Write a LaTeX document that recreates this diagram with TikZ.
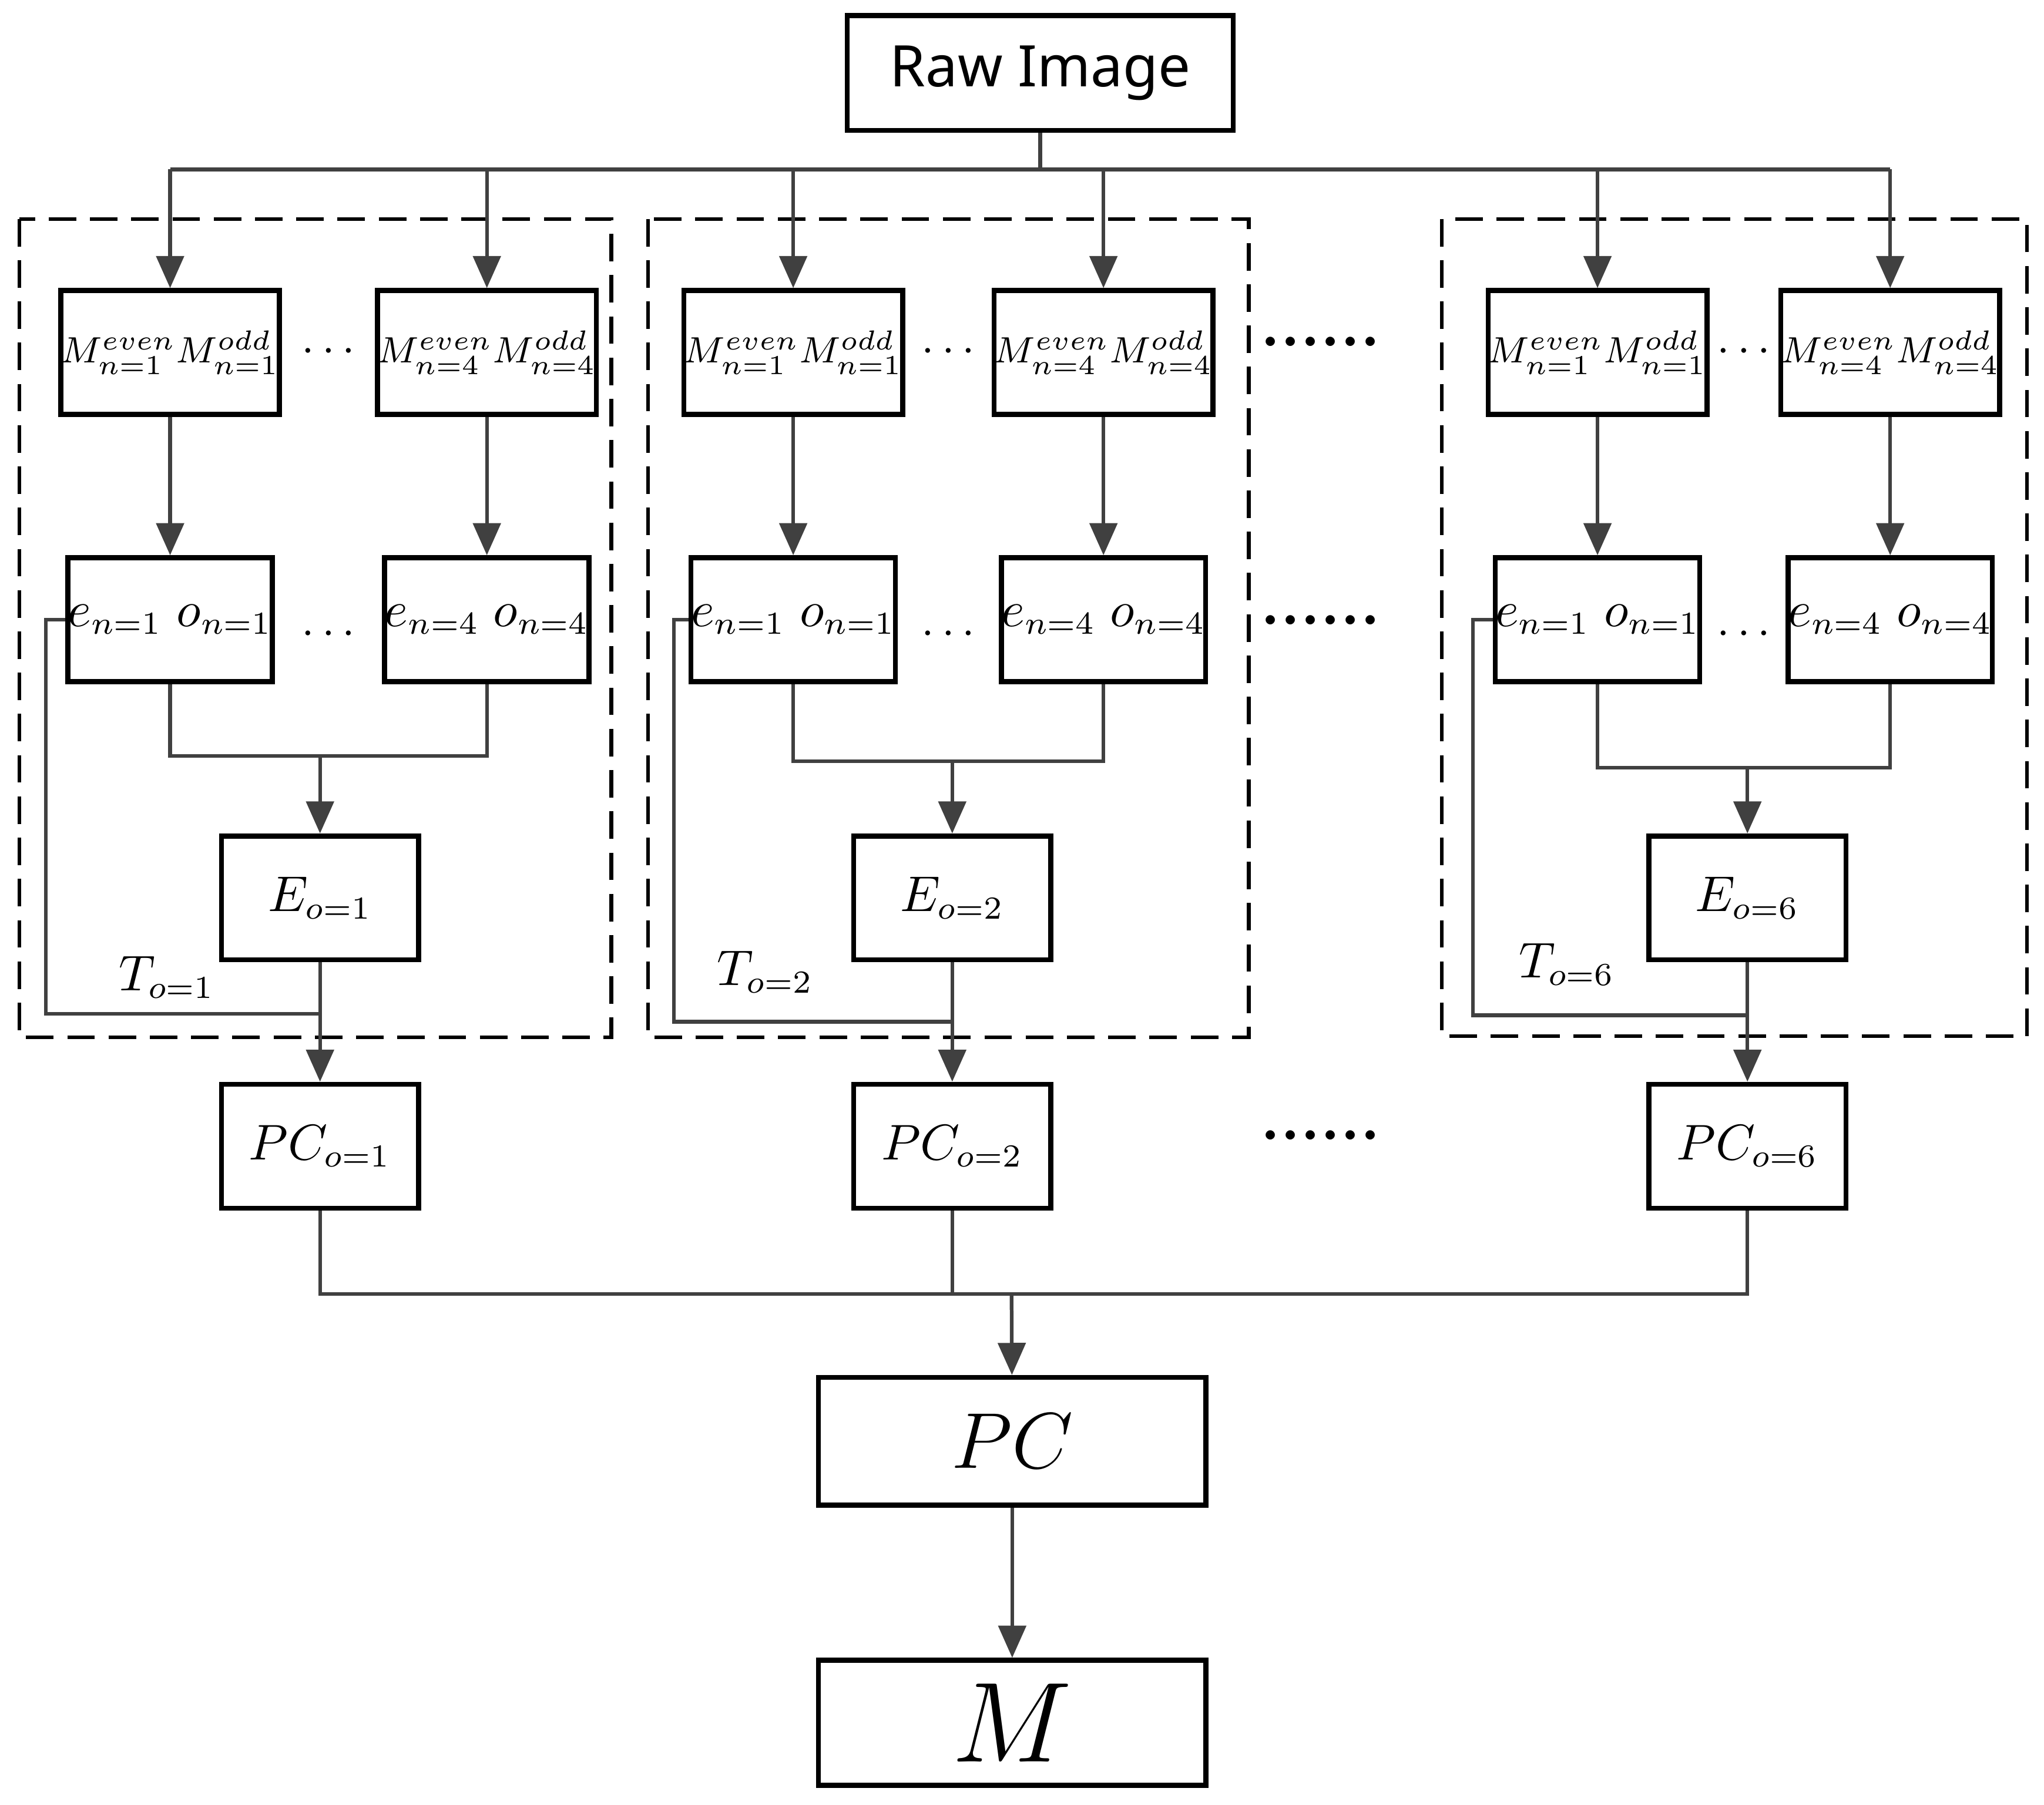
\documentclass[tikz,border=0pt]{standalone}
\usepackage{fontspec}
\newfontfamily\rawfont{Noto Sans}
\usetikzlibrary{arrows.meta}
\begin{document}
\begin{tikzpicture}[x=0.01cm,y=-0.01cm,
 box/.style={draw=black,line width=1.1pt,minimum width=1.51cm,minimum height=0.95cm,inner sep=0pt,font=\fontsize{10.5}{12}\selectfont},
 mbox/.style={box,font=\fontsize{8.3}{10}\selectfont},
 ln/.style={draw=black!75,line width=0.8pt},
 arr/.style={ln,-{Triangle[length=7pt,width=6pt]}},
 grp/.style={draw=black,line width=0.8pt,dash pattern=on 6pt off 3pt},
 bigdots/.style={font=\fontsize{14}{16}\selectfont\bfseries}]
\useasboundingbox (0,0) rectangle (1568,1385);
\node[box,minimum width=2.96cm,minimum height=0.88cm,font=\rawfont\fontsize{12.5}{15}\selectfont] (raw) at (798,56) {Raw Image};
\coordinate (bus) at (798,130);
\draw[grp] (15,168) rectangle (469,796);
\draw[grp] (497,168) rectangle (958,796);
\draw[grp] (1106,168) rectangle (1555,795);
\foreach \g/\a/\b/\c/\ym/\fx/\fy/\o/\tx/\ty in {1/130.5/373.5/245.5/580/35/778/1/128/750, 2/608.5/846.5/730.5/584/517/784/2/587/746, 3/1225.5/1450/1340.5/589/1130/779/6/1202/740}{
 \node[mbox] (ma\g) at (\a,270.5) {$M^{even}_{n=1}M^{odd}_{n=1}$};
 \node[mbox] (mb\g) at (\b,270.5) {$M^{even}_{n=4}M^{odd}_{n=4}$};
 \node[box] (ea\g) at (\a,475.5) {$e_{n=1}\;o_{n=1}$};
 \node[box] (eb\g) at (\b,475.5) {$e_{n=4}\;o_{n=4}$};
 \node (d1\g) at ({(\a+\b)/2},270) {$\cdots$};
 \node (d2\g) at ({(\a+\b)/2},487) {$\cdots$};
 \node[box] (E\g) at (\c,689) {$E_{o=\o}$};
 \node[box] (P\g) at (\c,879.5) {$PC_{o=\o}$};
 \node[font=\fontsize{10.5}{12}\selectfont] (T\g) at (\tx,\ty) {$T_{o=\o}$};
 \draw[arr] (ma\g |- bus) -- (ma\g);
 \draw[arr] (mb\g |- bus) -- (mb\g);
 \draw[arr] (ma\g) -- (ea\g);
 \draw[arr] (mb\g) -- (eb\g);
 \coordinate (j\g) at (\c,\ym);
 \draw[ln] (ea\g.south) |- (j\g) -| (eb\g.south);
 \draw[arr] (j\g) -- (E\g);
 \draw[ln] (ea\g.west) -- (\fx,475.5) -- (\fx,\fy) -- (\c,\fy);
 \draw[arr] (E\g) -- (P\g);
}
\draw[ln] (raw) -- (bus);
\draw[ln] (ma1 |- bus) -- (mb3 |- bus);
\node[bigdots] (D1) at (1013,262) {......};
\node[bigdots] (D2) at (1013,476) {......};
\node[bigdots] (D3) at (1013,871) {......};
\node[box,minimum width=2.97cm,minimum height=0.98cm,font=\fontsize{19}{22}\selectfont] (pc) at (776.5,1106) {$PC$};
\node[box,minimum width=2.97cm,minimum height=0.96cm,font=\fontsize{25}{28}\selectfont] (m) at (776.5,1322) {$M$};
\coordinate (bb) at (776,993);
\draw[ln] (P1.south) |- (bb) -| (P3.south);
\draw[ln] (P2.south) -- (P2 |- bb);
\draw[arr] (bb) -- (pc);
\draw[arr] (pc) -- (m);
\end{tikzpicture}
\end{document}
